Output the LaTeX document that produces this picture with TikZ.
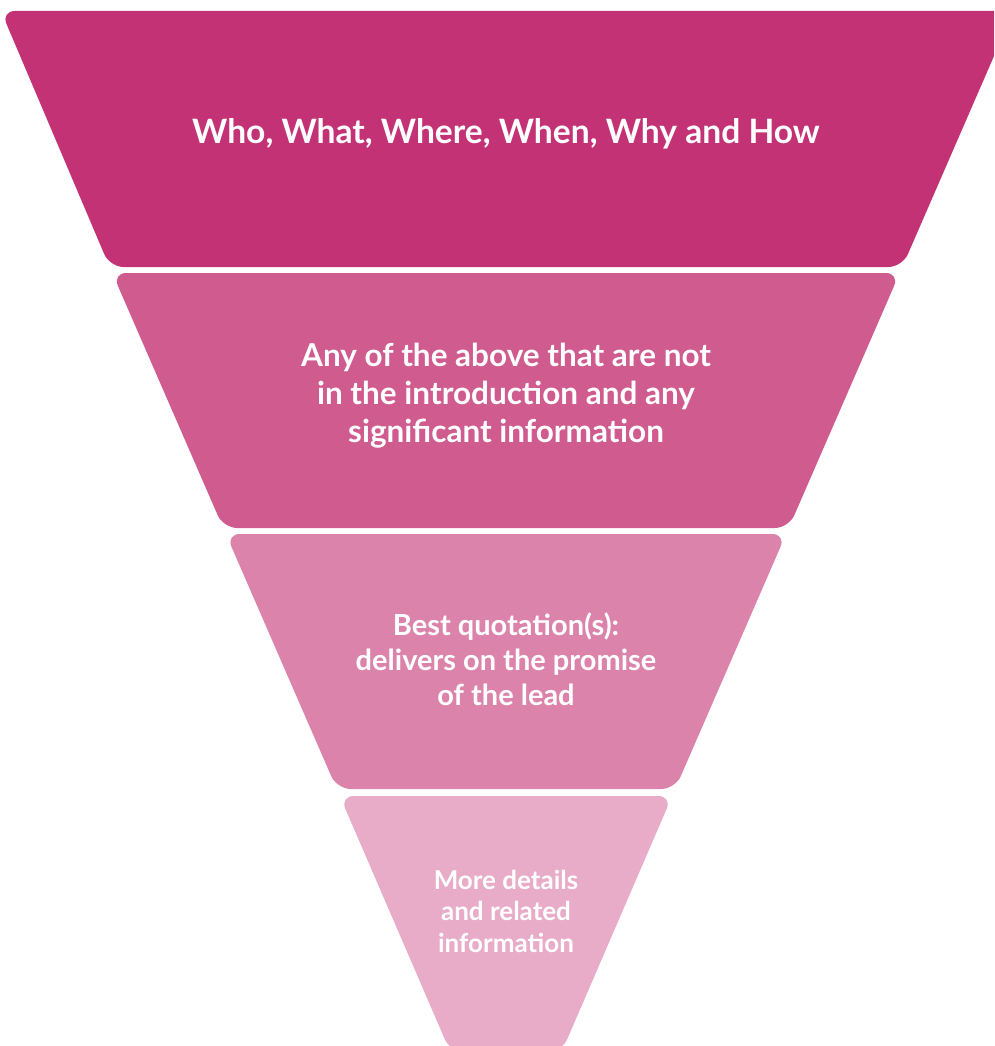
\documentclass[tikz,border=0pt]{standalone}
\usepackage{fontspec}
\setmainfont{Lato}
\definecolor{bandA}{RGB}{195,50,116}
\definecolor{bandB}{RGB}{207,91,143}
\definecolor{bandC}{RGB}{220,131,171}
\definecolor{bandD}{RGB}{232,172,201}
\tikzset{
  band/.style={rounded corners=14pt},
  bandtext/.style={text=white, font=\bfseries, align=center, inner sep=0.75pt}
}
\begin{document}
\begin{tikzpicture}[x=1pt,y=1pt,yscale=-1]
%set diagram to the size of the picture, cut what runs over
\clip (0,0) rectangle (994,1046);

%Shape: Band 1
\fill [band, bandA] (1,11) -- (1013.6,11) -- (902.3,267) -- (109.7,267) -- cycle ;
%Shape: Band 2
\fill [band, bandB] (112.3,273) -- (899.7,273) -- (788.75,528) -- (223.25,528) -- cycle ;
%Shape: Band 3
\fill [band, bandC] (225.9,534) -- (786.1,534) -- (675.2,789) -- (336.8,789) -- cycle ;
%Shape: Band 4
\fill [band, bandD] (339.8,796) -- (672.2,796) -- (561.7,1052) -- (450.3,1052) -- cycle ;

% Text Node
\node [bandtext, font=\fontsize{33.6}{40}\selectfont\bfseries] (who) at (506,134) {Who, What, Where, When, Why and How};
% Text Node
\node [bandtext, font=\fontsize{31.5}{38}\selectfont\bfseries] (above) at (506,396) {Any of the above that are not\\in the introduction and any\\significant information};
% Text Node
\node [bandtext, font=\fontsize{29}{35}\selectfont\bfseries] (quote) at (506,659) {Best quotation(s):\\delivers on the promise\\of the lead};
% Text Node
\node [bandtext, font=\fontsize{26}{31.5}\selectfont\bfseries] (more) at (506,911) {More details\\and related\\information};

\end{tikzpicture}
\end{document}
